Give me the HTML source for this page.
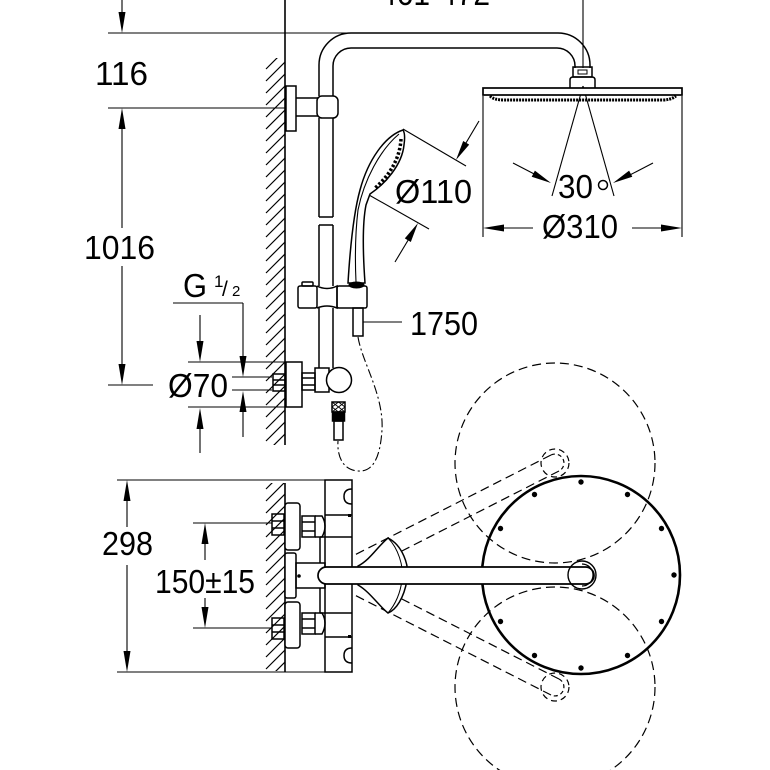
<!DOCTYPE html>
<html><head><meta charset="utf-8"><style>html,body{margin:0;padding:0;background:#fff}svg{display:block}text{font-family:"Liberation Sans",Arial,sans-serif;fill:#000}</style></head>
<body>
<svg width="770" height="770" viewBox="0 0 770 770" xmlns="http://www.w3.org/2000/svg">
<defs>
<clipPath id="cw1"><rect x="265" y="58" width="20" height="387"/></clipPath>
<clipPath id="cw2"><rect x="265" y="483" width="20" height="188"/></clipPath>
</defs>
<rect width="770" height="770" fill="#fff"/>

<!-- walls hatch -->
<g stroke="#000" stroke-width="1.2" fill="none">
<path clip-path="url(#cw1)" d="M266,69L285,50M266,81L285,62M266,93L285,74M266,105L285,86M266,117L285,98M266,129L285,110M266,141L285,122M266,153L285,134M266,165L285,146M266,177L285,158M266,189L285,170M266,201L285,182M266,213L285,194M266,225L285,206M266,237L285,218M266,249L285,230M266,261L285,242M266,273L285,254M266,285L285,266M266,297L285,278M266,309L285,290M266,321L285,302M266,333L285,314M266,345L285,326M266,357L285,338M266,369L285,350M266,381L285,362M266,393L285,374M266,405L285,386M266,417L285,398M266,429L285,410M266,441L285,422M266,453L285,434M266,465L285,446"/>
<path clip-path="url(#cw2)" d="M266,489L285,470M266,501L285,482M266,513L285,494M266,525L285,506M266,537L285,518M266,549L285,530M266,561L285,542M266,573L285,554M266,585L285,566M266,597L285,578M266,609L285,590M266,621L285,602M266,633L285,614M266,645L285,626M266,657L285,638M266,669L285,650M266,681L285,662M266,693L285,674"/>
</g>

<!-- dimension lines -->
<g fill="none" stroke="#000" stroke-width="1.1">
<line x1="122" y1="0" x2="122" y2="20"/>
<line x1="108" y1="33" x2="350" y2="33"/>
<line x1="108" y1="108" x2="285" y2="108"/>
<line x1="122" y1="120" x2="122" y2="228"/>
<line x1="122" y1="266" x2="122" y2="370"/>
<line x1="108" y1="385" x2="153" y2="385"/>
<line x1="583" y1="0" x2="583" y2="68"/>
<line x1="403" y1="129" x2="466" y2="166"/>
<line x1="369" y1="195" x2="429" y2="229"/>
<line x1="479" y1="121" x2="460" y2="153"/>
<line x1="395" y1="262" x2="413" y2="232"/>
<line x1="583" y1="86" x2="552" y2="196"/>
<line x1="583" y1="86" x2="614" y2="196"/>
<line x1="513" y1="163" x2="540" y2="177"/>
<line x1="653" y1="163" x2="626" y2="177"/>
<line x1="483" y1="96" x2="483" y2="237"/>
<line x1="682" y1="96" x2="682" y2="237"/>
<line x1="490" y1="228" x2="533" y2="228"/>
<line x1="632" y1="228" x2="675" y2="228"/>
<line x1="363" y1="322" x2="402" y2="322"/>
<line x1="173" y1="303" x2="243" y2="303"/>
<line x1="243" y1="303" x2="243" y2="360"/>
<line x1="243" y1="405" x2="243" y2="437"/>
<line x1="188" y1="362" x2="285" y2="362"/>
<line x1="188" y1="407" x2="285" y2="407"/>
<line x1="200" y1="315" x2="200" y2="345"/>
<line x1="200" y1="425" x2="200" y2="453"/>
<line x1="232" y1="377" x2="272" y2="377"/>
<line x1="232" y1="390" x2="272" y2="390"/>
<line x1="117" y1="480" x2="325" y2="480"/>
<line x1="117" y1="672" x2="325" y2="672"/>
<line x1="127" y1="495" x2="127" y2="527"/>
<line x1="127" y1="565" x2="127" y2="660"/>
<line x1="193" y1="523" x2="272" y2="523"/>
<line x1="193" y1="628" x2="272" y2="628"/>
<line x1="205" y1="535" x2="205" y2="560"/>
<line x1="205" y1="598" x2="205" y2="615"/>
</g>

<!-- arrowheads -->
<g fill="#000" stroke="none">
<polygon points="122,33 118.5,12 125.5,12"/>
<polygon points="122,108 118.5,129 125.5,129"/>
<polygon points="122,385 118.5,364 125.5,364"/>
<polygon points="456,160 469.2,144.6 463.2,141"/>
<polygon points="418,223 410.8,242 404.8,238.4"/>
<polygon points="551,183 531.7,176.8 534.9,170.6"/>
<polygon points="613,183 632.3,176.8 629.1,170.6"/>
<polygon points="483,228 504,224.5 504,231.5"/>
<polygon points="682,228 661,224.5 661,231.5"/>
<polygon points="243,377 239.5,356 246.5,356"/>
<polygon points="243,391 239.5,412 246.5,412"/>
<polygon points="200,362 196.5,341 203.5,341"/>
<polygon points="200,408 196.5,429 203.5,429"/>
<polygon points="127,480 123.5,501 130.5,501"/>
<polygon points="127,672 123.5,651 130.5,651"/>
<polygon points="205,523 201.5,544 208.5,544"/>
<polygon points="205,628 201.5,607 208.5,607"/>
</g>

<!-- walls -->
<g stroke="#000" stroke-width="1.6" fill="none">
<line x1="285" y1="0" x2="285" y2="445"/>
<line x1="285" y1="483" x2="285" y2="672"/>
</g>

<!-- front view object -->
<g fill="none" stroke="#000" stroke-width="1.5">
<path d="M319,96 L319,65 A32,32 0 0 1 351,33 L558,33 A32,32 0 0 1 590,65 L590,68"/>
<path d="M333,96 L333,66 A18,18 0 0 1 351,48 L557,48 A18,18 0 0 1 575,66 L575,68"/>
<rect x="286" y="86" width="10" height="45" fill="#fff"/>
<line x1="296" y1="98" x2="318" y2="98"/>
<line x1="296" y1="116" x2="318" y2="116"/>
<rect x="317" y="96" width="21" height="22" rx="5" fill="#fff"/>
<line x1="319" y1="118" x2="319" y2="217"/>
<line x1="333" y1="118" x2="333" y2="217"/>
<line x1="319" y1="217" x2="333" y2="217"/>
<line x1="319" y1="225" x2="333" y2="225"/>
<line x1="319" y1="225" x2="319" y2="286"/>
<line x1="333" y1="225" x2="333" y2="286"/>
<line x1="319" y1="308" x2="319" y2="368"/>
<line x1="333" y1="308" x2="333" y2="368"/>
<rect x="302" y="282" width="11" height="4" rx="1"/>
<rect x="298" y="286" width="19" height="22" rx="2"/>
<path d="M317,286 Q327,291 337,286 L337,308 Q327,304 317,308"/>
<rect x="337" y="286" width="30" height="22" rx="2"/>
<rect x="353" y="308" width="10" height="28"/>
<path d="M403,130 C385,136 368,160 360,190 C353,215 350,250 348,283 L365,283 C363,255 362,225 366,205 L370,194 C385,184 402,165 404,145 C405,138 405,133 403,130 Z" fill="#fff"/>
<path d="M399,134 C380,150 364,180 358,210 C355,235 355,260 356,282" stroke-width="1.1"/>
<path d="M401,139 C400,158 390,175 375,188" stroke-width="3.5" stroke-dasharray="2.5 2"/>
<rect x="286" y="362" width="16" height="45" fill="#fff"/>
<rect x="273" y="374" width="12" height="17"/>
<line x1="273" y1="380" x2="285" y2="380"/>
<line x1="273" y1="385" x2="285" y2="385"/>
<rect x="302" y="373" width="13" height="17"/>
<line x1="302" y1="378" x2="315" y2="378"/>
<line x1="302" y1="385" x2="315" y2="385"/>
<rect x="315" y="368" width="14" height="24"/>
<circle cx="339" cy="380" r="12.5" fill="#fff"/>
<rect x="332" y="402" width="13" height="10"/>
<path d="M332,402 L345,412 M345,402 L332,412 M338.5,402 L332,407 M338.5,402 L345,407 M332,407 L338.5,412 M345,407 L338.5,412" stroke-width="0.9"/>
<rect x="332.5" y="412" width="12" height="9" fill="#000"/>
<rect x="334" y="421" width="9" height="19"/>
<path d="M358,337 C362,362 384,395 382,430 C380,460 372,472 358,471 C342,470 337,455 338,441" stroke-width="1.1" stroke-dasharray="9 3 2 3"/>
<rect x="573" y="67" width="19" height="10"/>
<rect x="578" y="70" width="9" height="4" stroke-width="1"/>
<path d="M570,88 L570,80 Q570,77 573,77 L592,77 Q595,77 595,80 L595,88"/>
<rect x="483" y="88" width="199" height="7" fill="#fff" stroke-width="1.7"/>
<path d="M490,96 Q494,100 504,100 L662,100 Q671,100 676,96" stroke-width="3" stroke-dasharray="2 1"/>
</g>
<g fill="#000"><ellipse cx="356.5" cy="285" rx="8" ry="3.5"/></g>

<!-- top view -->
<g fill="none" stroke="#000" stroke-width="1.2" stroke-dasharray="9 5">
<circle cx="555" cy="463" r="100"/>
<circle cx="555" cy="687" r="100"/>
<line x1="331" y1="567" x2="551" y2="455"/>
<line x1="339" y1="583" x2="559" y2="471"/>
<path d="M551,455 A8.5,8.5 0 0 1 559,471" stroke-dasharray="4 3"/>
<circle cx="555" cy="463" r="14" stroke-dasharray="6 4"/>
<line x1="331" y1="583" x2="551" y2="695"/>
<line x1="339" y1="567" x2="559" y2="679"/>
<path d="M559,679 A8.5,8.5 0 0 1 551,695" stroke-dasharray="4 3"/>
<circle cx="555" cy="687" r="14" stroke-dasharray="6 4"/>
</g>

<g fill="none" stroke="#000" stroke-width="2.6">
<circle cx="581" cy="575" r="99"/>
</g>
<g fill="#000">
<circle cx="674" cy="575" r="2.7"/>
<circle cx="661.5" cy="528.5" r="2.7"/><circle cx="661.5" cy="621.5" r="2.7"/>
<circle cx="627.5" cy="494.5" r="2.7"/><circle cx="627.5" cy="655.5" r="2.7"/>
<circle cx="581" cy="482" r="2.7"/><circle cx="581" cy="668" r="2.7"/>
<circle cx="534.5" cy="494.5" r="2.7"/><circle cx="534.5" cy="655.5" r="2.7"/>
<circle cx="500.5" cy="528.5" r="2.7"/><circle cx="500.5" cy="621.5" r="2.7"/>
</g>

<g fill="none" stroke="#000" stroke-width="1.5">
<path d="M358,566 C370,560 378,546 388,538 C402,545 410,565 407,580 C404,598 396,610 388,613 C378,605 370,592 358,585 Z" fill="#fff"/>
<path d="M388,538 C398,548 404,566 402,580 C400,596 394,606 388,613" stroke-width="1"/>
<rect x="325" y="480" width="27" height="192" fill="#fff"/>
<line x1="325" y1="515" x2="352" y2="515"/>
<line x1="320" y1="537" x2="352" y2="537"/>
<line x1="320" y1="613" x2="352" y2="613"/>
<line x1="325" y1="637" x2="352" y2="637"/>
<path d="M352,489 Q344,489 344,496.5 Q344,504 352,504"/>
<path d="M352,648 Q344,648 344,655.5 Q344,663 352,663"/>
<line x1="320" y1="537" x2="320" y2="563"/>
<line x1="320" y1="588" x2="320" y2="613"/>
<rect x="272" y="514" width="12" height="21"/>
<line x1="272" y1="521" x2="284" y2="521"/><line x1="272" y1="528" x2="284" y2="528"/>
<rect x="285" y="503" width="15" height="47" rx="3" fill="#fff"/>
<rect x="302" y="516" width="13" height="21"/>
<line x1="302" y1="522" x2="315" y2="522"/><line x1="302" y1="531" x2="315" y2="531"/>
<path d="M315,516 L322,516 Q328,526 322,537 L315,537"/>
<rect x="285" y="553" width="11" height="45" rx="2" fill="#fff"/>
<rect x="296" y="563" width="29" height="25"/>
<rect x="272" y="618" width="12" height="21"/>
<line x1="272" y1="625" x2="284" y2="625"/><line x1="272" y1="632" x2="284" y2="632"/>
<rect x="285" y="602" width="15" height="46" rx="3" fill="#fff"/>
<rect x="302" y="613" width="13" height="21"/>
<line x1="302" y1="619" x2="315" y2="619"/><line x1="302" y1="628" x2="315" y2="628"/>
<path d="M315,613 L322,613 Q328,623 322,634 L315,634"/>
<rect x="318" y="567" width="276" height="17" rx="8.5" fill="#fff" stroke-width="1.7"/>
<circle cx="582" cy="575" r="14" stroke-width="1.4"/>
<path d="M582,564 A11,11 0 0 1 582,586" stroke-width="1.2"/>
</g>
<circle cx="299" cy="576" r="1.8" fill="#000"/>
<rect x="348" y="514" width="3" height="3" fill="#000"/>
<rect x="348" y="635" width="3" height="3" fill="#000"/>

<!-- texts -->
<g font-size="33">
<text x="380" y="5" textLength="110" lengthAdjust="spacingAndGlyphs">461-472</text>
<text x="95" y="85" textLength="53" lengthAdjust="spacingAndGlyphs">116</text>
<text x="84" y="259" textLength="71" lengthAdjust="spacingAndGlyphs">1016</text>
<text x="183" y="297" textLength="24" lengthAdjust="spacingAndGlyphs">G</text>
<text x="168" y="397" textLength="60" lengthAdjust="spacingAndGlyphs">Ø70</text>
<text x="395" y="203" textLength="77" lengthAdjust="spacingAndGlyphs">Ø110</text>
<text x="542" y="238" textLength="76" lengthAdjust="spacingAndGlyphs">Ø310</text>
<text x="558" y="198" textLength="35" lengthAdjust="spacingAndGlyphs">30</text>
<text x="410" y="335" textLength="68" lengthAdjust="spacingAndGlyphs">1750</text>
<text x="102" y="555" textLength="51" lengthAdjust="spacingAndGlyphs">298</text>
<text x="155" y="593" textLength="100" lengthAdjust="spacingAndGlyphs">150±15</text>
</g>
<text x="214" y="287" font-size="17">1</text>
<text x="222" y="296" font-size="21">/</text>
<text x="232" y="296" font-size="15">2</text>
<circle cx="603" cy="185" r="4.5" fill="none" stroke="#000" stroke-width="1.5"/>
</svg>
</body></html>
